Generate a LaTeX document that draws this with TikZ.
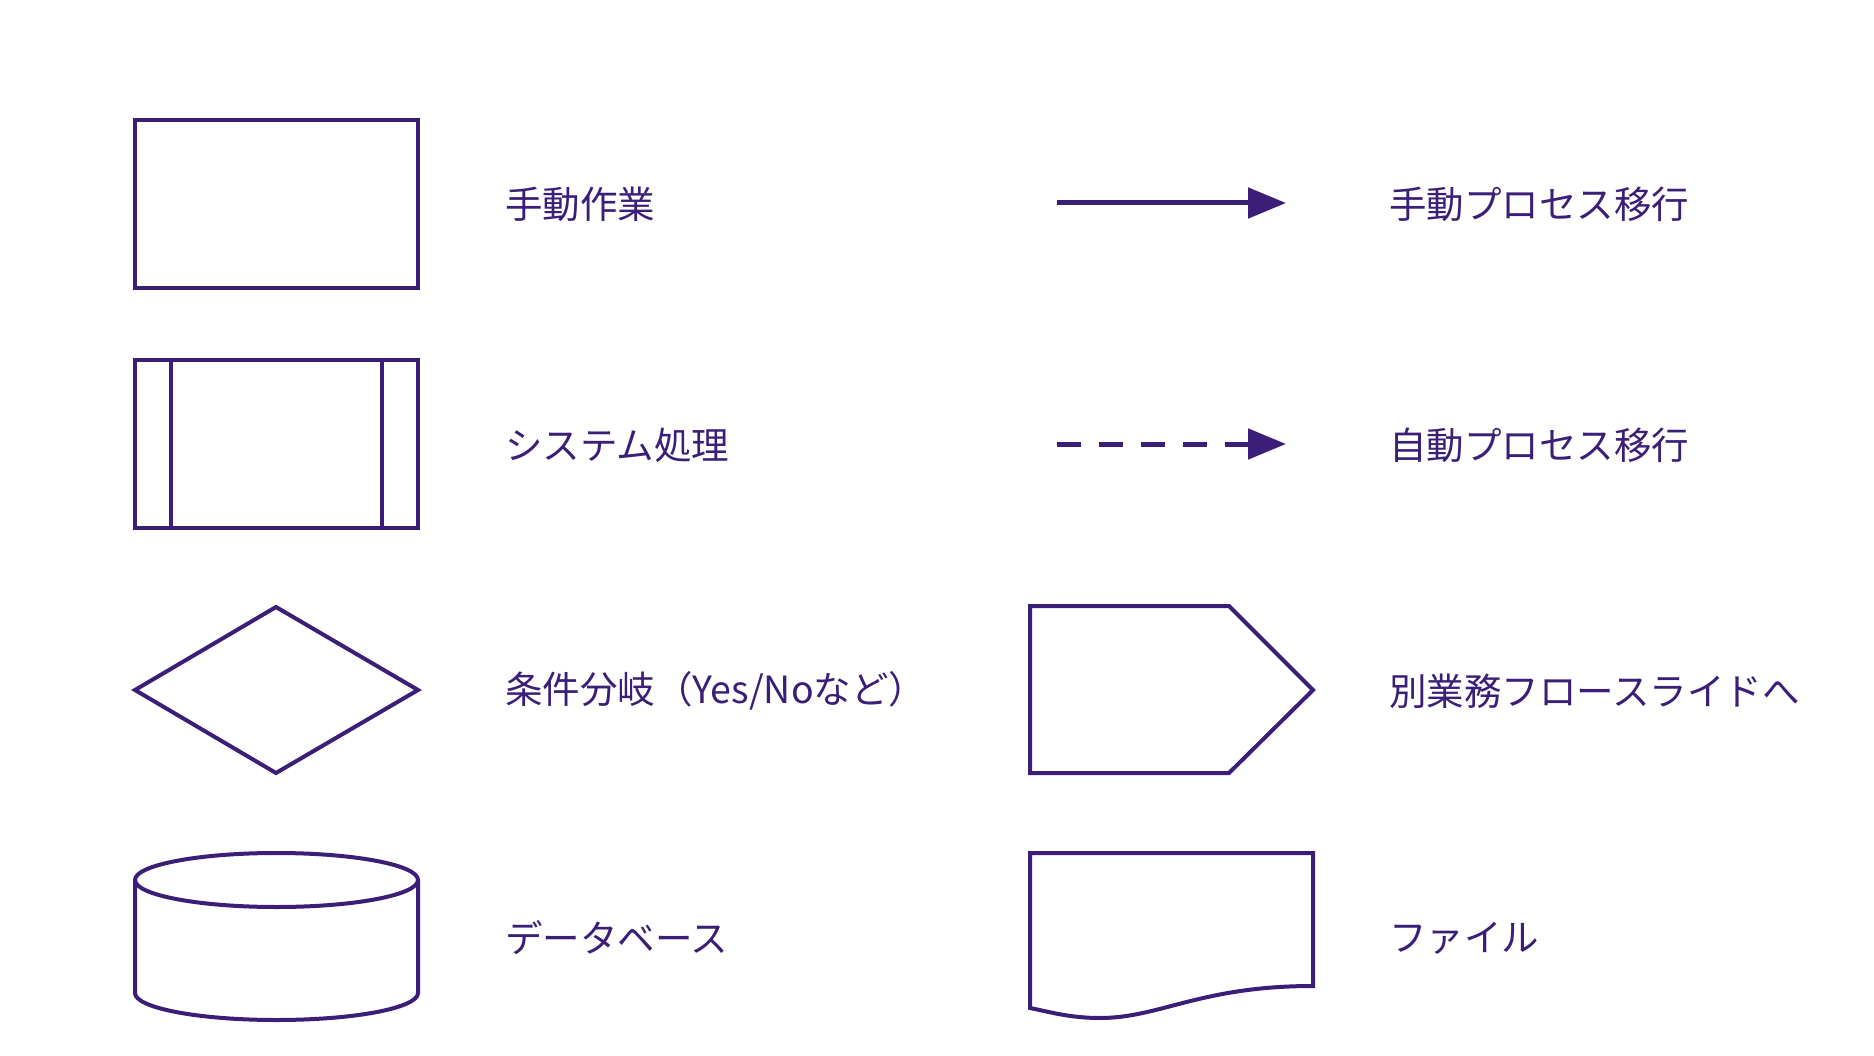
\documentclass[tikz,border=0pt]{standalone}
\usepackage{fontspec}
\setmainfont{Noto Sans CJK JP}
\usetikzlibrary{arrows.meta}
\definecolor{ink}{RGB}{58,30,120}
\tikzset{
  shp/.style={draw=ink, line width=4pt, line join=miter},
  lbl/.style={anchor=west, inner sep=0pt, text=ink, font=\fontsize{37.5}{40}\selectfont},
  flow/.style={draw=ink, line width=5pt, -{Triangle[length=38pt,width=30pt]}},
  autoflow/.style={flow, dash pattern=on 24pt off 18pt},
}
\begin{document}
\begin{tikzpicture}[x=1pt,y=-1pt]
\useasboundingbox[fill=white] (0,0) rectangle (1874,1056);
% manual work
\draw[shp] (135,120) rectangle (418,288);
\node[lbl] (l1) at (505,204) {手動作業};
% system process
\draw[shp] (135,360) rectangle (418,528);
\draw[shp] (171,360) -- (171,528);
\draw[shp] (382,360) -- (382,528);
\node[lbl] (l2) at (505,445) {システム処理};
% decision
\draw[shp] (135,690) -- (276,607) -- (418,690) -- (276,773) -- cycle;
\node[lbl] (l3) at (505,691) {条件分岐（Yes/Noなど）};
% database
\draw[shp] (135,880) -- (135,993) arc[start angle=180,end angle=360,x radius=141.5,y radius=-27] -- (418,880);
\draw[shp] (276.5,880) ellipse[x radius=141.5,y radius=27];
\node[lbl] (l4) at (505,938) {データベース};
% arrows
\coordinate (a1s) at (1057,203);
\coordinate (a1e) at (1286,203);
\draw[flow] (a1s) -- (a1e);
\node[lbl] (r1) at (1389,204) {手動プロセス移行};
\coordinate (a2s) at (1057,444);
\coordinate (a2e) at (1286,444);
\draw[autoflow] (a2s) -- (a2e);
\node[lbl] (r2) at (1389,445) {自動プロセス移行};
% off-page
\draw[shp] (1030,606) -- (1229,606) -- (1313,690) -- (1229,773) -- (1030,773) -- cycle;
\node[lbl] (r3) at (1389,691) {別業務フロースライドへ};
% document
\draw[shp] (1030,853) -- (1313,853) -- (1313,986)
  .. controls (1200,986) and (1160,1018) .. (1100,1018)
  .. controls (1070,1018) and (1050,1012) .. (1030,1008) -- cycle;
\node[lbl] (r4) at (1389,938) {ファイル};
\end{tikzpicture}
\end{document}
